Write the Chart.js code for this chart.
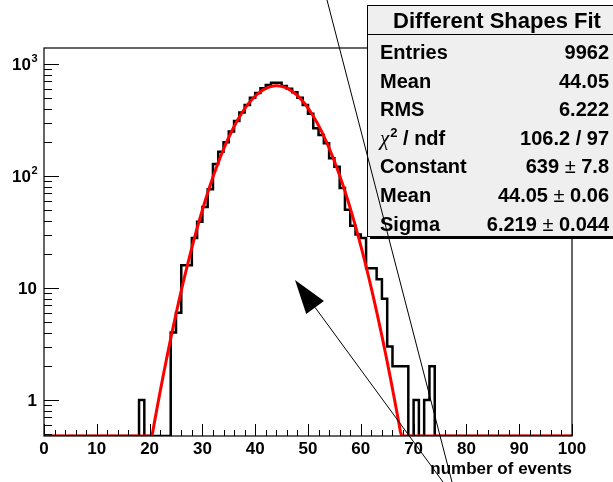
<!DOCTYPE html>
<html>
<head>
<meta charset="utf-8">
<script src="https://cdn.jsdelivr.net/npm/chart.js@4.4.1/dist/chart.umd.min.js"></script>
<style>
  html, body { margin: 0; padding: 0; background: #ffffff; overflow: hidden; }
  canvas { display: block; }
</style>
</head>
<body>
<canvas id="hist" width="613" height="482"></canvas>
<script>
// Histogram: 100 bins of width 1 on [0, 100]
const binLow = 0;
const binWidth = 1;
const counts = [
  0, 0, 0, 0, 0, 0, 0, 0, 0, 0,
  0, 0, 0, 0, 0, 0, 0, 0, 1, 0,
  0, 0, 0, 0, 4, 6, 16, 16, 28, 39,
  53, 76, 128, 165, 200, 250, 310, 370, 430, 500,
  550, 607, 649, 681, 681, 636, 600, 560, 500, 430,
  360, 267, 232, 196, 144, 121, 78, 50, 36, 30,
  28, 15, 15, 12, 8, 3, 2, 2, 2, 0,
  1, 0, 1, 2, 0, 0, 0, 0, 0, 0,
  0, 0, 0, 0, 0, 0, 0, 0, 0, 0,
  0, 0, 0, 0, 0, 0, 0, 0, 0, 0
];

// Gaussian fit result
const fitConstant = 639;
const fitMean = 44.05;
const fitSigma = 6.219;

// Axis ranges and tick labels
const xMin = 0, xMax = 100;
const yMin = 0.477, yMax = 1390;
const xTickValues = [0, 10, 20, 30, 40, 50, 60, 70, 80, 90, 100];
const yDecades = [1, 10, 100, 1000];
const yDecadeBase = ['1', '10', '10', '10'];
const yDecadeExp = ['', '', '2', '3'];
const xTitle = 'number of events';

// Statistics box
const statsTitle = 'Different Shapes Fit';
const statsNames = ['Entries', 'Mean', 'RMS', 'CHI2', 'Constant', 'Mean', 'Sigma'];
const statsValues = ['9962', '44.05', '6.222', '106.2 / 97', '639', '44.05', '6.219'];
const statsErrors = ['', '', '', '', '7.8', '0.06', '0.044'];

// Build the step outline from the bin contents
const histPoints = counts.map((c, i) => ({ x: binLow + i * binWidth, y: Math.max(c, yMin) }));
histPoints.push({ x: binLow + counts.length * binWidth, y: yMin });

// Sample the fitted Gaussian along the x range
const fitPoints = [];
for (let i = 0; i <= 400; i++) {
  const xv = xMin + (xMax - xMin) * i / 400;
  const z = (xv - fitMean) / fitSigma;
  fitPoints.push({ x: xv, y: Math.max(fitConstant * Math.exp(-0.5 * z * z), yMin) });
}

const FONT = '"Liberation Sans", Arial, Helvetica, sans-serif';

function drawRunsRight(ctx, runs, xRight, y) {
  // runs: [{text, font, dy}], drawn so that the last run ends at xRight
  let total = 0;
  runs.forEach(r => { ctx.font = r.font; total += ctx.measureText(r.text).width; });
  let xp = xRight - total;
  runs.forEach(r => {
    ctx.font = r.font;
    ctx.fillText(r.text, xp, y + (r.dy || 0));
    xp += ctx.measureText(r.text).width;
  });
}

const rootStyle = {
  id: 'rootStyle',
  afterDatasetsDraw(chart) {
    const { ctx, chartArea: a, scales } = chart;
    const xs = scales.x, ys = scales.y;
    ctx.save();

    // frame
    ctx.strokeStyle = '#000';
    ctx.lineWidth = 1.2;
    ctx.strokeRect(a.left, a.top, a.right - a.left, a.bottom - a.top);

    // x ticks (inside, upward)
    ctx.lineWidth = 1;
    ctx.beginPath();
    for (let v = xMin; v <= xMax + 1e-9; v += 2) {
      const px = Math.round(xs.getPixelForValue(v)) + 0.5;
      const len = (v % 10 === 0) ? 12 : 6;
      ctx.moveTo(px, a.bottom);
      ctx.lineTo(px, a.bottom - len);
    }
    ctx.stroke();

    // y ticks (inside, rightward)
    ctx.beginPath();
    [0.1, 1, 10, 100, 1000].forEach(d => {
      for (let m = 1; m <= 9; m++) {
        const v = d * m;
        if (v < yMin || v > yMax) continue;
        const py = Math.round(ys.getPixelForValue(v)) + 0.5;
        const len = (m === 1) ? 15 : 8;
        ctx.moveTo(a.left, py);
        ctx.lineTo(a.left + len, py);
      }
    });
    ctx.stroke();

    // x tick labels
    ctx.fillStyle = '#000';
    ctx.font = 'bold 17px ' + FONT;
    ctx.textAlign = 'center';
    ctx.textBaseline = 'alphabetic';
    xTickValues.forEach(v => {
      ctx.fillText(String(v), xs.getPixelForValue(v), a.bottom + 18);
    });

    // y tick labels
    ctx.textAlign = 'right';
    yDecades.forEach((v, i) => {
      const py = ys.getPixelForValue(v);
      if (yDecadeExp[i]) {
        ctx.font = 'bold 17px ' + FONT;
        ctx.fillText(yDecadeBase[i], 31, py + 6);
        ctx.font = 'bold 11px ' + FONT;
        ctx.textAlign = 'left';
        ctx.fillText(yDecadeExp[i], 31.5, py - 2);
        ctx.textAlign = 'right';
      } else {
        ctx.font = 'bold 17px ' + FONT;
        ctx.fillText(yDecadeBase[i], 37, py + 6);
      }
    });

    // axis title
    ctx.font = 'bold 17px ' + FONT;
    ctx.textAlign = 'right';
    ctx.fillText(xTitle, a.right, a.bottom + 38);

    // statistics box
    const bx = 367, by = 5, bw = 260, bh = 231;
    ctx.fillStyle = '#000';
    ctx.fillRect(bx + 3, by + bh, bw, 3);
    ctx.fillStyle = '#efefef';
    ctx.fillRect(bx, by, bw, bh);
    ctx.strokeStyle = '#000';
    ctx.lineWidth = 1;
    ctx.strokeRect(bx + 0.5, by + 0.5, bw, bh);
    ctx.beginPath();
    ctx.moveTo(bx, 34.5);
    ctx.lineTo(bx + bw, 34.5);
    ctx.stroke();

    ctx.fillStyle = '#000';
    ctx.textAlign = 'center';
    ctx.font = 'bold 22px ' + FONT;
    ctx.fillText(statsTitle, 497, 28);

    const rowY0 = 59, rowStep = 28.6, labelX = 380, valueX = 609;
    const bold = 'bold 20px ' + FONT;
    statsNames.forEach((name, i) => {
      const yb = rowY0 + i * rowStep;
      ctx.textAlign = 'left';
      if (name === 'CHI2') {
        ctx.font = 'italic 21px "Liberation Serif", "DejaVu Serif", serif';
        ctx.fillText('\u03C7', labelX, yb);
        let xp = labelX + ctx.measureText('\u03C7').width;
        ctx.font = 'bold 13px ' + FONT;
        ctx.fillText('2', xp + 1, yb - 8);
        xp += ctx.measureText('2').width + 1;
        ctx.font = bold;
        ctx.fillText(' / ndf', xp, yb);
      } else {
        ctx.font = bold;
        ctx.fillText(name, labelX, yb);
      }
      ctx.textAlign = 'left';
      if (statsErrors[i]) {
        drawRunsRight(ctx, [
          { text: statsValues[i] + ' ', font: bold },
          { text: '\u00B1', font: '20px ' + FONT },
          { text: ' ' + statsErrors[i], font: bold }
        ], valueX, yb);
      } else {
        drawRunsRight(ctx, [{ text: statsValues[i], font: bold }], valueX, yb);
      }
    });

    // long thin line across the pad
    ctx.strokeStyle = '#000';
    ctx.lineWidth = 1;
    ctx.beginPath();
    ctx.moveTo(327, 0);
    ctx.lineTo(452, 482);
    ctx.stroke();

    // arrow
    const ax0 = 443, ay0 = 482, ax1 = 295, ay1 = 280;
    const ang = Math.atan2(ay1 - ay0, ax1 - ax0);
    const headLen = 34, headHalf = 11;
    const bxm = ax1 - headLen * Math.cos(ang), bym = ay1 - headLen * Math.sin(ang);
    ctx.beginPath();
    ctx.moveTo(ax0, ay0);
    ctx.lineTo(bxm, bym);
    ctx.stroke();
    ctx.beginPath();
    ctx.moveTo(ax1, ay1);
    ctx.lineTo(bxm + headHalf * Math.sin(ang), bym - headHalf * Math.cos(ang));
    ctx.lineTo(bxm - headHalf * Math.sin(ang), bym + headHalf * Math.cos(ang));
    ctx.closePath();
    ctx.fillStyle = '#000';
    ctx.fill();

    ctx.restore();
  }
};

new Chart(document.getElementById('hist').getContext('2d'), {
  type: 'line',
  data: {
    datasets: [
      {
        label: 'fit',
        data: fitPoints,
        borderColor: '#ff0000',
        borderWidth: 3,
        pointRadius: 0,
        tension: 0,
        fill: false,
        clip: 0,
        order: 0
      },
      {
        label: 'histogram',
        data: histPoints,
        borderColor: '#000000',
        borderWidth: 2.5,
        borderJoinStyle: 'miter',
        pointRadius: 0,
        stepped: true,
        fill: false,
        clip: 0,
        order: 1
      }
    ]
  },
  options: {
    responsive: false,
    animation: false,
    devicePixelRatio: 1,
    layout: { padding: { left: 44, top: 48, right: 41, bottom: 46 } },
    plugins: { legend: { display: false }, tooltip: { enabled: false } },
    scales: {
      x: { type: 'linear', min: xMin, max: xMax, display: false },
      y: { type: 'logarithmic', min: yMin, max: yMax, display: false }
    }
  },
  plugins: [rootStyle]
});
</script>
</body>
</html>
